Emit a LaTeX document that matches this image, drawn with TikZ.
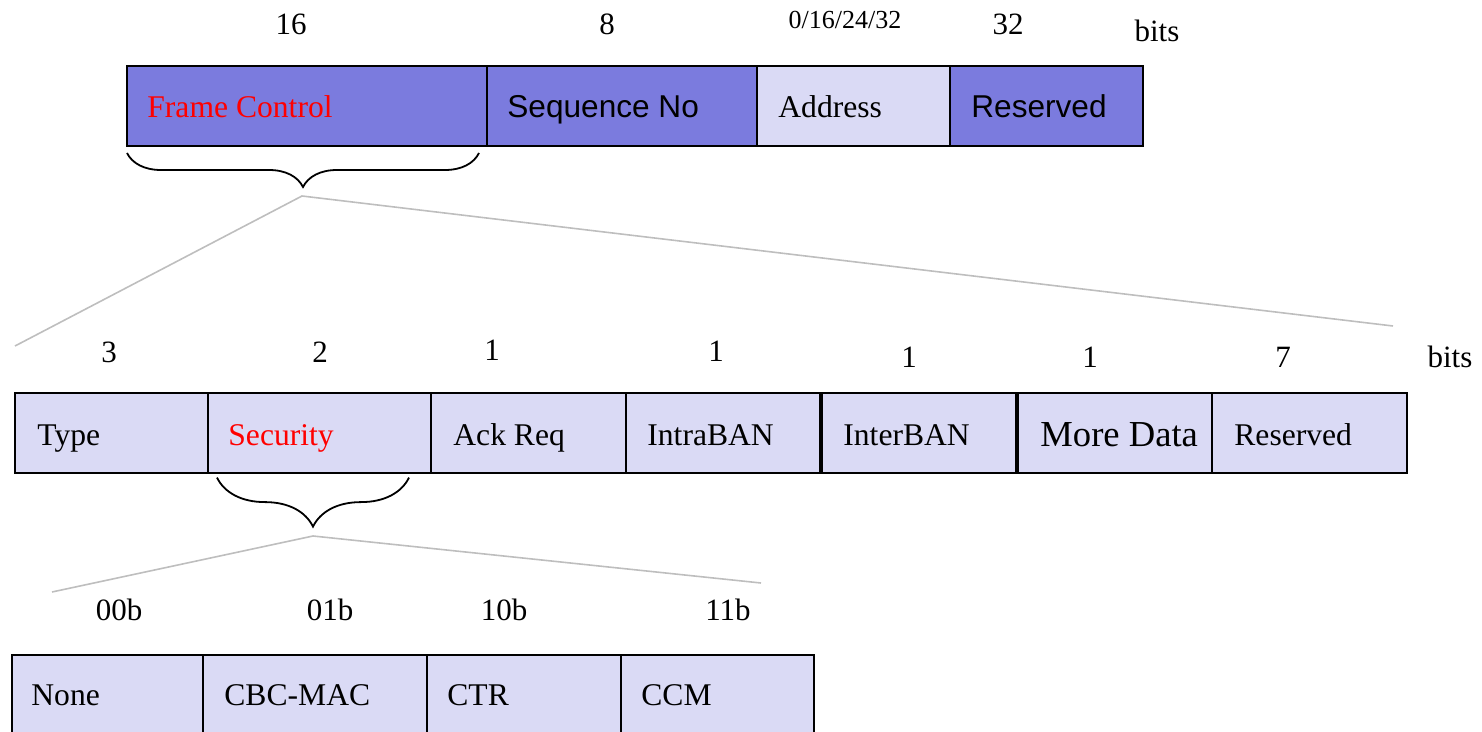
\documentclass[tikz,border=0pt]{standalone}
\usepackage{fontspec}
\setmainfont{Liberation Serif}
\setsansfont{Liberation Sans}
\usetikzlibrary{positioning,decorations.pathreplacing}
\definecolor{fieldblue}{RGB}{123,123,222}
\definecolor{fieldlilac}{RGB}{218,218,245}
\definecolor{zoomgrey}{RGB}{190,190,190}

\begin{document}
\begin{tikzpicture}[x=0.5pt,y=-0.5pt,
field/.style={rectangle,draw=black,line width=0.9pt,outer sep=0pt,
  minimum height=40pt,inner sep=0pt},
dark/.style={field,fill=fieldblue},
light/.style={field,fill=fieldlilac},
fieldname/.style={inner sep=0pt,anchor=base west,font=\fontsize{15.8}{18}\selectfont}, % serif labels
sansname/.style={fieldname,font=\sffamily\fontsize{15.8}{18}\selectfont},
bitcount/.style={inner sep=0pt,font=\fontsize{15.5}{18}\selectfont}]

\tikzset{
  curly/.style={decorate,decoration={brace,mirror,amplitude=#1},line width=0.9pt},
  zoomline/.style={draw=zoomgrey,line width=0.8pt}
}

    \useasboundingbox (0,0) rectangle (1482,732);

    % frame header
    \node[dark,anchor=north west,minimum width=180pt] at (127,66) (fc) {};
    \node[dark,minimum width=135pt,right=0pt of fc] (seq) {};
    \node[light,minimum width=96.5pt,right=0pt of seq] (addr) {};
    \node[dark,minimum width=96.5pt,right=0pt of addr] (res) {};
    \node[fieldname,text=red] at ([xshift=10pt,yshift=-6pt]fc.west) (fctext) {Frame Control};
    \node[sansname] at ([xshift=10pt,yshift=-6pt]seq.west) (seqtext) {Sequence No};
    \node[fieldname] at ([xshift=10.5pt,yshift=-6pt]addr.west) (addrtext) {Address};
    \node[sansname] at ([xshift=10.5pt,yshift=-6pt]res.west) (restext) {Reserved};

    \node[bitcount] at (291,24) (fcbits) {16};
    \node[bitcount] at (607,24) (seqbits) {8};
    \node[bitcount,font=\fontsize{13}{15}\selectfont] at (845,20) (addrbits) {0/16/24/32};
    \node[bitcount] at (1008,24) (resbits) {32};
    \node[bitcount] at (1157,31) (topunit) {bits};

    % frame control field
    \node[light,anchor=north west,minimum width=96.5pt] at (15,393) (type) {};
    \node[light,minimum width=111.5pt,right=0pt of type] (sec) {};
    \node[light,minimum width=97.5pt,right=0pt of sec] (ack) {};
    \node[light,minimum width=97pt,right=0pt of ack] (intra) {};
    \node[light,minimum width=97pt,right=1pt of intra] (inter) {};
    \node[light,minimum width=97pt,right=1pt of inter] (more) {};
    \node[light,minimum width=97.5pt,right=0pt of more] (fcres) {};
    \node[fieldname] at ([xshift=11pt,yshift=-6pt]type.west) (typetext) {Type};
    \node[fieldname,text=red] at ([xshift=10pt,yshift=-6pt]sec.west) (sectext) {Security};
    \node[fieldname] at ([xshift=11pt,yshift=-6pt]ack.west) (acktext) {Ack Req};
    \node[fieldname] at ([xshift=10.5pt,yshift=-6pt]intra.west) (intratext) {IntraBAN};
    \node[fieldname] at ([xshift=10.5pt,yshift=-6pt]inter.west) (intertext) {InterBAN};
    \node[fieldname,font=\fontsize{18.3}{20}\selectfont] at ([xshift=11pt,yshift=-6.5pt]more.west) (moretext) {More Data};
    \node[fieldname] at ([xshift=11pt,yshift=-6pt]fcres.west) (fcrestext) {Reserved};

    \node[bitcount] at (109,352) (typebits) {3};
    \node[bitcount] at (320,352) (secbits) {2};
    \node[bitcount] at (492,350) (ackbits) {1};
    \node[bitcount] at (716,351) (intrabits) {1};
    \node[bitcount] at (909,357) (interbits) {1};
    \node[bitcount] at (1090,357) (morebits) {1};
    \node[bitcount] at (1283,357) (fcresbits) {7};
    \node[bitcount] at (1450,357) (midunit) {bits};

    % security modes
    \node[light,anchor=north west,minimum width=95.5pt] at (12,655) (none) {};
    \node[light,minimum width=112pt,right=0pt of none] (cbc) {};
    \node[light,minimum width=97pt,right=0pt of cbc] (ctr) {};
    \node[light,minimum width=96.5pt,right=0pt of ctr] (ccm) {};
    \node[fieldname] at ([xshift=9.5pt,yshift=-5.3pt]none.west) (nonetext) {None};
    \node[fieldname] at ([xshift=10.5pt,yshift=-5.3pt]cbc.west) (cbctext) {CBC-MAC};
    \node[fieldname] at ([xshift=10pt,yshift=-5.3pt]ctr.west) (ctrtext) {CTR};
    \node[fieldname] at ([xshift=10pt,yshift=-5.3pt]ccm.west) (ccmtext) {CCM};

    \node[bitcount] at (119,610) (nonecode) {00b};
    \node[bitcount] at (330,610) (cbccode) {01b};
    \node[bitcount] at (504,610) (ctrcode) {10b};
    \node[bitcount] at (728,610) (ccmcode) {11b};

    % braces and zoom lines
    \draw[curly=17pt] ([yshift=-3.5pt]fc.south west) -- ([xshift=-4pt,yshift=-3.5pt]fc.south east);
    \draw[curly=24.5pt] ([xshift=4.5pt,yshift=-2.3pt]sec.south west) -- ([xshift=-11pt,yshift=-2.3pt]sec.south east);

    \coordinate (fcroot) at (302,196);
    \coordinate (fcleft) at (15,346);
    \coordinate (fcright) at (1393,326);
    \coordinate (secroot) at (313,536);
    \coordinate (secleft) at (52,592);
    \coordinate (secright) at (761,583);
    \draw[zoomline] (fcleft) -- (fcroot) -- (fcright);
    \draw[zoomline] (secleft) -- (secroot) -- (secright);

\end{tikzpicture}
\end{document}
